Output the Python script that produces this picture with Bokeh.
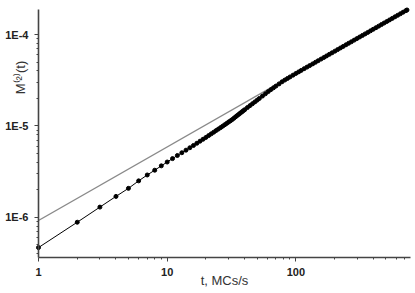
from bokeh.plotting import figure
from bokeh.models import Range1d, FixedTicker, CustomJSTickFormatter, Label
from bokeh.embed import file_html
from bokeh.resources import INLINE

# measured series M2(t) (t in MCs/s)
t_data = [1, 2, 3, 4, 5, 6, 7, 8, 9, 10, 11, 12, 13, 14, 15, 16, 17, 18, 19, 20,
          21, 22, 23, 24, 25, 26, 27, 28, 29, 30, 31, 32, 33, 34, 35, 36, 37, 38, 39, 40,
          42, 44, 46, 48, 50, 52, 55, 58, 61, 64, 67, 70, 74, 78, 82, 86, 90, 95,
          100, 105, 110, 116, 122, 128, 135, 142, 149, 157, 165, 173, 182, 191,
          201, 211, 222, 233, 245, 257, 270, 284, 298, 313, 329, 345, 362, 380,
          399, 419, 440, 462, 485, 509, 534, 561, 589, 618, 649, 681, 715, 730]
m2_data = [4.65e-7, 8.81e-7, 1.29e-6, 1.69e-6, 2.07e-6, 2.50e-6, 2.90e-6, 3.27e-6, 3.65e-6, 4.02e-6,
           4.38e-6, 4.74e-6, 5.08e-6, 5.42e-6, 5.76e-6, 6.10e-6, 6.45e-6, 6.80e-6, 7.14e-6, 7.48e-6,
           7.83e-6, 8.18e-6, 8.53e-6, 8.89e-6, 9.23e-6, 9.57e-6, 9.93e-6, 1.029e-5, 1.065e-5, 1.102e-5,
           1.136e-5, 1.172e-5, 1.214e-5, 1.256e-5, 1.297e-5, 1.338e-5, 1.380e-5, 1.421e-5, 1.463e-5, 1.504e-5,
           1.586e-5, 1.667e-5, 1.749e-5, 1.831e-5, 1.913e-5, 1.996e-5, 2.121e-5, 2.247e-5, 2.372e-5, 2.495e-5,
           2.612e-5, 2.728e-5, 2.882e-5, 3.037e-5, 3.175e-5, 3.304e-5, 3.433e-5, 3.592e-5,
           3.75e-5, 3.90e-5, 4.05e-5, 4.23e-5, 4.40e-5, 4.57e-5, 4.77e-5, 4.97e-5, 5.17e-5, 5.39e-5,
           5.61e-5, 5.83e-5, 6.07e-5, 6.31e-5,
           6.58e-5, 6.84e-5, 7.13e-5, 7.41e-5, 7.72e-5, 8.02e-5, 8.34e-5, 8.69e-5, 9.03e-5, 9.40e-5,
           9.78e-5, 1.016e-4, 1.056e-4, 1.098e-4,
           1.142e-4, 1.188e-4, 1.236e-4, 1.286e-4, 1.337e-4, 1.390e-4, 1.445e-4, 1.503e-4, 1.563e-4,
           1.624e-4, 1.690e-4, 1.757e-4, 1.827e-4, 1.858e-4]

# power-law fit line (end points)
t_fit = [1, 730]
m2_fit = [9.2e-7, 1.858e-4]

# axis extents and ticks
x_axis_span = (1, 780)
y_axis_span = (3.62e-7, 1.88e-4)
x_major = [1, 10, 100]
x_minor = [2, 3, 4, 5, 6, 7, 8, 9, 20, 30, 40, 50, 60, 70, 80, 90, 200, 300, 400, 500, 600, 700]
y_major = [1e-6, 1e-5, 1e-4]
y_minor = [4e-7, 5e-7, 6e-7, 7e-7, 8e-7, 9e-7,
           2e-6, 3e-6, 4e-6, 5e-6, 6e-6, 7e-6, 8e-6, 9e-6,
           2e-5, 3e-5, 4e-5, 5e-5, 6e-5, 7e-5, 8e-5, 9e-5]

FONT = "Liberation Sans"
AX = "#444444"

# the frame fills the canvas; axes are drawn at fixed locations inside it
p = figure(width=415, height=293, x_axis_type="log", y_axis_type="log",
           x_range=Range1d(0.5067, 850), y_range=Range1d(1.461e-7, 2.359e-4),
           output_backend="svg", toolbar_location=None,
           min_border_left=0, min_border_right=0, min_border_top=0, min_border_bottom=0)
p.outline_line_color = None
p.background_fill_color = "white"
p.border_fill_color = "white"
p.xgrid.visible = False
p.ygrid.visible = False

p.line(t_fit, m2_fit, line_color="#8a8a8a", line_width=1.4)
p.line(t_data, m2_data, line_color="black", line_width=1)
p.scatter(t_data, m2_data, size=4, fill_color="black", line_color="black")

for ax in (p.xaxis[0], p.yaxis[0]):
    ax.axis_line_color = AX
    ax.axis_line_width = 1.6
    ax.major_tick_line_color = AX
    ax.minor_tick_line_color = AX
    ax.major_tick_out = 4
    ax.major_tick_in = 0
    ax.minor_tick_out = 2
    ax.minor_tick_in = 0
    ax.major_label_text_font = FONT
    ax.major_label_text_font_style = "bold"
    ax.major_label_text_font_size = "11px"
    ax.major_label_text_color = "#222222"
    ax.major_label_standoff = 6

p.xaxis[0].fixed_location = y_axis_span[0]
p.yaxis[0].fixed_location = x_axis_span[0]
p.xaxis[0].bounds = x_axis_span
p.yaxis[0].bounds = y_axis_span

p.xaxis[0].ticker = FixedTicker(ticks=x_major, minor_ticks=x_minor)
p.yaxis[0].ticker = FixedTicker(ticks=y_major, minor_ticks=y_minor)
p.xaxis[0].formatter = CustomJSTickFormatter(code="return String(Math.round(tick));")
p.yaxis[0].formatter = CustomJSTickFormatter(code="return '1E' + Math.round(Math.log10(tick));")

xlab = Label(x=224, y=13, x_units="screen", y_units="screen",
             text="t, MCs/s", text_align="center", text_baseline="middle",
             text_font=FONT, text_font_size="13px", text_color="#333333")
ylab = Label(x=20, y=216, x_units="screen", y_units="screen",
             text="M\u207d\u00b2\u207e(t)", angle=1.5707963, angle_units="rad",
             text_align="center", text_baseline="middle",
             text_font=FONT, text_font_size="13px", text_color="#333333")
p.add_layout(xlab)
p.add_layout(ylab)

open("out.html", "w").write(file_html(p, INLINE))
